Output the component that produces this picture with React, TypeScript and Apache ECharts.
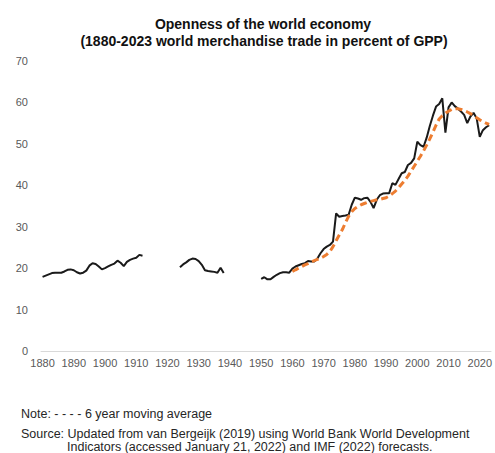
import React, { useEffect, useRef } from "react";
import * as echarts from "echarts";

const titleLines = [
  "Openness of the world economy",
  "(1880-2023 world merchandise trade in percent of GPP)",
];

const xTickYears = [1880, 1890, 1900, 1910, 1920, 1930, 1940, 1950, 1960, 1970, 1980, 1990, 2000, 2010, 2020];

const prewarStart = 1880;
const prewarValues = [
  17.9, 18.2, 18.5, 18.8, 18.9, 18.9, 18.9, 19.2, 19.6, 19.7,
  19.5, 19.0, 18.7, 18.9, 19.4, 20.6, 21.2, 21.0, 20.4, 19.7,
  20.0, 20.4, 20.8, 21.1, 21.8, 21.3, 20.5, 21.5, 22.0, 22.3,
  22.5, 23.2, 23.0,
];

const interwarStart = 1924;
const interwarValues = [
  20.2, 20.9, 21.4, 22.0, 22.3, 22.2, 21.7, 20.8, 19.5, 19.3,
  19.2, 19.1, 18.9, 20.1, 18.8,
];

const postwarStart = 1950;
const postwarValues = [
  17.4, 17.8, 17.3, 17.3, 17.9, 18.4, 18.8, 19.0, 19.0, 18.9,
  19.9, 20.4, 20.7, 21.0, 21.2, 21.7, 21.6, 21.6, 22.3, 23.6,
  24.6, 25.2, 25.6, 26.4, 33.2, 32.4, 32.6, 32.7, 32.9, 35.3,
  37.0, 36.8, 36.5, 36.9, 37.0, 36.0, 34.5, 36.5, 37.6, 38.0,
  38.1, 38.1, 40.5, 40.1, 41.5, 42.9, 43.2, 44.9, 45.4, 46.5,
  50.5, 49.7, 49.3, 51.5, 54.3, 56.8, 59.0, 59.6, 61.0, 52.7,
  58.8, 60.0, 59.1, 58.5, 57.8, 57.0, 55.0, 56.6, 57.5, 56.2,
  51.7, 53.3, 54.0, 54.5,
];

const maStart = 1960;
const maValues = [
  19.2, 19.6, 20.0, 20.4, 20.8, 21.1, 21.5, 21.8, 22.1, 22.4,
  22.8, 23.3, 24.0, 25.2, 26.6, 28.0, 29.3, 31.0, 32.5, 33.6,
  34.4, 34.9, 35.3, 35.6, 35.9, 36.1, 36.3, 36.5, 36.6, 36.8,
  37.0, 37.4, 38.0, 38.6, 39.4, 40.3, 41.2, 42.2, 43.4, 44.6,
  45.8, 47.0, 48.3, 49.7, 51.2, 52.8, 54.5, 56.0, 56.8, 57.4,
  57.9, 58.3, 58.5, 58.5, 58.3, 58.0, 57.7, 57.3, 56.8, 56.3,
  55.8, 55.4, 55.0, 54.7,
];

const noteText = "Note: - - - - 6 year moving average";
const sourceLine1 = "Source: Updated from van Bergeijk (2019) using World Bank World Development";
const sourceLine2 = "Indicators (accessed January 21, 2022) and IMF (2022) forecasts.";

function pairs(start: number, values: number[]): (number | null)[][] {
  return values.map((v, i) => [start + i, v]);
}

export default function App() {
  const ref = useRef<HTMLDivElement>(null);

  useEffect(() => {
    if (!ref.current) return;
    const chart = echarts.init(ref.current, null, { renderer: "svg" });

    const tradeData = [
      ...pairs(prewarStart, prewarValues),
      [prewarStart + prewarValues.length, null],
      ...pairs(interwarStart, interwarValues),
      [interwarStart + interwarValues.length, null],
      ...pairs(postwarStart, postwarValues),
    ];
    const maData = pairs(maStart, maValues);

    const font = "'Liberation Sans', Arial, sans-serif";
    const titleFont = `bold 14px ${font}`;
    const noteFont = `12.5px ${font}`;

    chart.setOption({
      animation: false,
      backgroundColor: "#ffffff",
      grid: { left: 41, right: 3.3, top: 61, bottom: 102, containLabel: false },
      xAxis: {
        type: "value",
        min: 1879.5,
        max: 2023.6,
        axisLine: { show: true, lineStyle: { color: "#d9d9d9", width: 1 } },
        axisTick: { show: false },
        splitLine: { show: false },
        axisLabel: {
          customValues: xTickYears,
          color: "#595959",
          fontFamily: font,
          fontSize: 11,
          margin: 6,
          formatter: (v: number) => String(v),
        },
      },
      yAxis: {
        type: "value",
        min: 0,
        max: 70,
        interval: 10,
        axisLine: { show: false },
        axisTick: { show: false },
        splitLine: { show: false },
        axisLabel: {
          color: "#595959",
          fontFamily: font,
          fontSize: 11,
          margin: 13,
        },
      },
      series: [
        {
          type: "line",
          data: tradeData,
          showSymbol: false,
          connectNulls: false,
          lineStyle: { color: "#1a1a1a", width: 2 },
          z: 2,
        },
        {
          type: "line",
          data: maData,
          showSymbol: false,
          lineStyle: { color: "#ed7d31", width: 3, type: [7, 4] },
          z: 3,
        },
      ],
      graphic: [
        {
          type: "text",
          x: 263,
          y: 23.5,
          style: {
            text: titleLines[0],
            font: titleFont,
            fill: "#111111",
            textAlign: "center",
            textVerticalAlign: "middle",
          },
        },
        {
          type: "text",
          x: 264,
          y: 40.5,
          style: {
            text: titleLines[1],
            font: titleFont,
            fill: "#111111",
            textAlign: "center",
            textVerticalAlign: "middle",
          },
        },
        {
          type: "text",
          left: 21,
          top: 407,
          style: { text: noteText, font: noteFont, fill: "#262626" },
        },
        {
          type: "text",
          left: 21,
          top: 427,
          style: { text: sourceLine1, font: noteFont, fill: "#262626" },
        },
        {
          type: "text",
          left: 67,
          top: 440,
          style: { text: sourceLine2, font: noteFont, fill: "#262626" },
        },
      ],
    });

    return () => chart.dispose();
  }, []);

  return (
    <div
      ref={ref}
      style={{ position: "fixed", left: 0, top: 0, width: 495, height: 453 }}
    />
  );
}
